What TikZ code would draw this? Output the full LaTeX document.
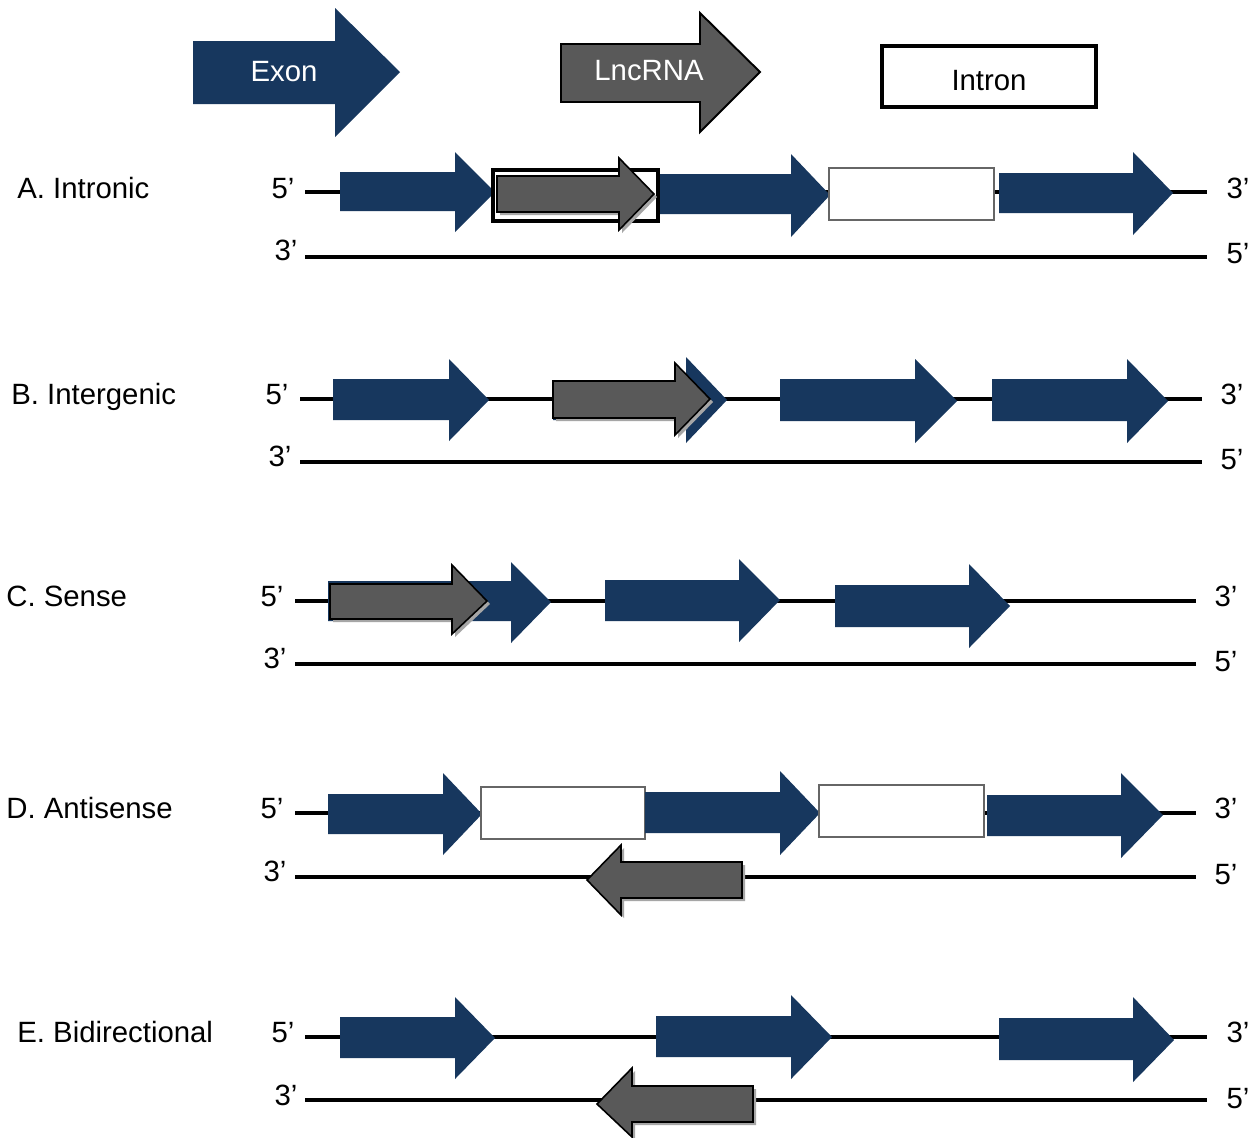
\documentclass[tikz,border=0pt]{standalone}
\usepackage{fontspec}
\setmainfont{Liberation Sans}
\definecolor{exonblue}{HTML}{17375E}
\definecolor{lncgray}{HTML}{595959}
\definecolor{shadowgray}{HTML}{A6A6A6}
\newcommand{\myarr}[9]{%
  \path[#1] (#2,#6) -- (#3,#6) -- (#3,#8) -- (#4,#5) -- (#3,#9) -- (#3,#7) -- (#2,#7) -- cycle;}
\newcommand{\lncarr}[8]{%
  \begin{scope}[shift={(3,3)}]\myarr{lncshadow}{#1}{#2}{#3}{#4}{#5}{#6}{#7}{#8}\end{scope}%
  \myarr{lnc}{#1}{#2}{#3}{#4}{#5}{#6}{#7}{#8}}
\begin{document}
\begin{tikzpicture}[x=0.02cm,y=-0.02cm,
  exon/.style={fill=exonblue},
  lnc/.style={fill=lncgray,draw=black,line width=0.9pt,line join=miter},
  lncshadow/.style={fill=shadowgray},
  intronbox/.style={fill=white,draw=black!60,line width=0.6pt},
  strand/.style={draw=black,line width=2pt},
  lbl/.style={font=\fontsize{16.7}{20}\selectfont,inner sep=0pt},
  rowlbl/.style={lbl,anchor=mid west},
  endlbl/.style={lbl,anchor=mid}]
\useasboundingbox (0,0) rectangle (1256,1137);
\fill[white] (0,0) rectangle (1256,1137);

% ---------- Legend ----------
\myarr{exon}{193}{335}{400}{72}{41}{104}{8}{137}
\node[lbl,text=white] (lexon) at (284,72) {Exon};
\myarr{lnc,line width=1.1pt}{561}{700}{760}{72}{44}{102}{13}{132}
\node[lbl,text=white] (llnc) at (649,71) {LncRNA};
\draw[line width=2.4pt,fill=white] (882,46) rectangle (1096,107);
\node[lbl] (lintron) at (989,81) {Intron};

% ---------- A. Intronic ----------
\node[rowlbl] (la) at (17,194) {A. Intronic};
\coordinate (a1) at (305,192); \coordinate (a2) at (1207,192);
\coordinate (a3) at (305,257); \coordinate (a4) at (1207,257);
\draw[strand] (a1) -- (a2); \draw[strand] (a3) -- (a4);
\node[endlbl] (a5l) at (283,194) {5’};
\node[endlbl] (a3r) at (1238,194) {3’};
\node[endlbl] (a3l) at (286,256) {3’};
\node[endlbl] (a5r) at (1238,259) {5’};
\myarr{exon}{340}{455}{495}{192}{172}{211}{152}{232}
\myarr{exon}{655}{791}{830}{195}{174}{214}{154}{237}
\draw[intronbox] (829,168) rectangle (994,220);
\myarr{exon}{999}{1133}{1173}{193}{173}{213}{152}{235}
\draw[black,line width=2.4pt,fill=white] (493,170) rectangle (658,221);
\lncarr{497}{619}{654}{194}{176}{212}{158}{230}

% ---------- B. Intergenic ----------
\node[rowlbl] (lb) at (11,400) {B. Intergenic};
\coordinate (b1) at (300,399); \coordinate (b2) at (1202,399);
\coordinate (b3) at (300,462); \coordinate (b4) at (1202,462);
\draw[strand] (b1) -- (b2); \draw[strand] (b3) -- (b4);
\node[endlbl] (b5l) at (277,400) {5’};
\node[endlbl] (b3r) at (1232,400) {3’};
\node[endlbl] (b3l) at (280,462) {3’};
\node[endlbl] (b5r) at (1232,465) {5’};
\myarr{exon}{333}{449}{489}{400}{379}{420}{359}{441}
\myarr{exon}{553}{686}{727}{400}{380}{420}{357}{443}
\lncarr{553}{675}{710}{399}{381}{418}{363}{435}
\myarr{exon}{780}{915}{957}{401}{379}{421}{359}{443}
\myarr{exon}{992}{1127}{1168}{401}{379}{421}{359}{443}

% ---------- C. Sense ----------
\node[rowlbl] (lc) at (6,602) {C. Sense};
\coordinate (c1) at (295,601); \coordinate (c2) at (1196,601);
\coordinate (c3) at (295,664); \coordinate (c4) at (1196,664);
\draw[strand] (c1) -- (c2); \draw[strand] (c3) -- (c4);
\node[endlbl] (c5l) at (272,602) {5’};
\node[endlbl] (c3r) at (1226,602) {3’};
\node[endlbl] (c3l) at (275,664) {3’};
\node[endlbl] (c5r) at (1226,667) {5’};
\myarr{exon}{328}{511}{551}{602}{581}{621}{562}{643}
\lncarr{330}{452}{487}{601}{584}{619}{565}{634}
\myarr{exon}{605}{739}{780}{600}{580}{621}{559}{642}
\myarr{exon}{835}{969}{1010}{606}{585}{627}{564}{648}

% ---------- D. Antisense ----------
\node[rowlbl] (ld) at (6,814) {D. Antisense};
\coordinate (d1) at (295,813); \coordinate (d2) at (1196,813);
\coordinate (d3) at (295,877); \coordinate (d4) at (1196,877);
\draw[strand] (d1) -- (d2); \draw[strand] (d3) -- (d4);
\node[endlbl] (d5l) at (272,814) {5’};
\node[endlbl] (d3r) at (1226,814) {3’};
\node[endlbl] (d3l) at (275,877) {3’};
\node[endlbl] (d5r) at (1226,880) {5’};
\myarr{exon}{328}{443}{482}{814}{794}{834}{773}{855}
\draw[intronbox] (481,787) rectangle (645,839);
\myarr{exon}{645}{780}{820}{813}{792}{833}{771}{855}
\draw[intronbox] (819,785) rectangle (984,837);
\myarr{exon}{987}{1121}{1163}{815}{795}{836}{773}{858}
\lncarr{742}{621}{587}{880}{862}{898}{845}{915}

% ---------- E. Bidirectional ----------
\node[rowlbl] (le) at (17,1038) {E. Bidirectional};
\coordinate (e1) at (305,1037); \coordinate (e2) at (1207,1037);
\coordinate (e3) at (305,1100); \coordinate (e4) at (1207,1100);
\draw[strand] (e1) -- (e2); \draw[strand] (e3) -- (e4);
\node[endlbl] (e5l) at (283,1038) {5’};
\node[endlbl] (e3r) at (1238,1038) {3’};
\node[endlbl] (e3l) at (286,1101) {3’};
\node[endlbl] (e5r) at (1238,1104) {5’};
\myarr{exon}{340}{455}{495}{1038}{1017}{1058}{997}{1079}
\myarr{exon}{656}{791}{832}{1037}{1016}{1057}{995}{1079}
\myarr{exon}{999}{1133}{1174}{1040}{1018}{1060}{997}{1082}
\lncarr{753}{632}{597}{1104}{1086}{1122}{1068}{1137}
\end{tikzpicture}
\end{document}
